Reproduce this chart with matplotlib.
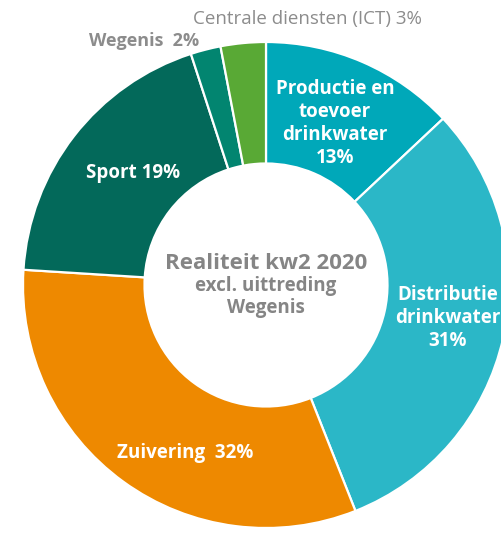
import numpy as np
import matplotlib.pyplot as plt

plt.rcParams['font.family'] = ['Open Sans', 'DejaVu Sans']

# share per department (clockwise from 12 o'clock)
labels = ['Productie en\ntoevoer\ndrinkwater', 'Distributie\ndrinkwater', 'Zuivering', 'Sport', 'Wegenis', 'Centrale diensten (ICT)']
values = [13, 31, 32, 19, 2, 3]
colors = ['#00A8B9', '#2BB7C7', '#EE8900', '#03695A', '#028570', '#59A935']

W, H = 502, 534
fig = plt.figure(figsize=(W / 100, H / 100), dpi=100)
ax = fig.add_axes([0, 0, 1, 1])

cx, cy, R = 266, H - 285, 243
ax.pie(values, colors=colors, startangle=90, counterclock=False,
       center=(cx, cy), radius=R, frame=True,
       wedgeprops=dict(width=R * 0.5, edgecolor='white', linewidth=1.6))
ax.set_xlim(0, W)
ax.set_ylim(0, H)
ax.set_aspect('equal')
ax.axis('off')

# label placement: (angle in deg, radius in px) relative to donut centre
lab_pos = [(66.9, 176), (-10.3, 185), (-115.7, 186), (139.9, 174)]
lab_txt = [labels[0] + f'\n{values[0]}%', labels[1] + f'\n{values[1]}%',
           f'{labels[2]}  {values[2]}%', f'{labels[3]} {values[3]}%']
for (ang, r), t in zip(lab_pos, lab_txt):
    a = np.deg2rad(ang)
    ax.text(cx + r * np.cos(a), cy + r * np.sin(a), t, color='white',
            fontsize=13.5, fontweight='bold', ha='center', va='center', linespacing=1.2)

# outside labels for the small slices
ax.text(144, H - 41, f'{labels[4]}  {values[4]}%', color='#8C8C8C', fontsize=13,
        fontweight='bold', ha='center', va='center')
ax.text(307, H - 19, f'{labels[5]} {values[5]}%', color='#8C8C8C', fontsize=13.5,
        ha='center', va='center')

# centre title
ax.text(cx, H - 263, 'Realiteit kw2 2020', color='#858585', fontsize=16,
        fontweight='bold', ha='center', va='center')
ax.text(cx, H - 297, 'excl. uittreding\nWegenis', color='#858585', fontsize=13.5,
        fontweight='bold', ha='center', va='center', linespacing=1.15)

fig.savefig('out.png', dpi=100)
